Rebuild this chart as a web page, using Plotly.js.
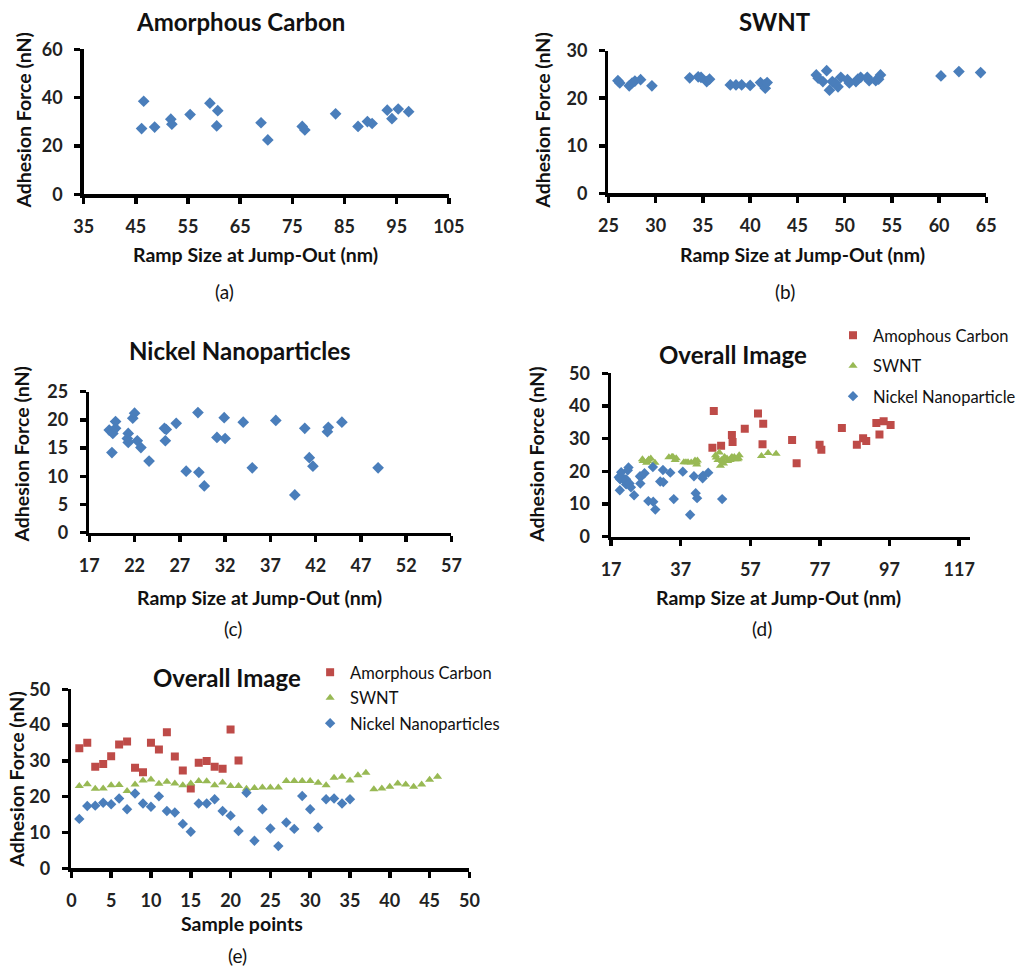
<!DOCTYPE html>
<html>
<head>
<meta charset="utf-8">
<script src="https://cdn.plot.ly/plotly-3.0.1.min.js"></script>
<style>html,body{margin:0;padding:0;background:#fff;}#chart{width:1021px;height:967px;}</style>
</head>
<body>
<div id="chart"></div>
<script>
// ---- Data ----
// (a) Amorphous Carbon: ramp size (nm) vs adhesion force (nN)
const carbonRamp  = [46.1,46.5,48.6,51.7,51.9,55.4,59.2,60.7,60.5,69.0,70.3,76.9,77.4,83.3,87.6,89.4,90.3,93.2,94.1,95.3,97.3];
const carbonForce = [27.2,38.5,27.8,31.1,29.0,33.0,37.7,34.6,28.3,29.6,22.5,28.1,26.6,33.3,28.1,30.1,29.3,34.8,31.3,35.3,34.2];
// (b) SWNT
const swntRamp  = [26.0,26.2,27.2,27.5,27.8,28.4,29.6,33.6,34.5,34.8,35.4,35.7,37.9,38.5,39.1,40.0,41.1,41.5,41.6,41.8,47.0,47.2,47.7,48.1,48.4,48.7,49.0,49.3,49.6,50.3,50.5,51.2,51.4,51.7,52.4,52.6,53.3,53.6,53.8,60.2,62.1,64.4];
const swntForce = [23.7,23.2,22.6,23.2,23.6,23.9,22.6,24.3,24.5,24.4,23.5,24.0,22.8,22.8,22.8,22.7,23.3,22.8,22.1,23.3,24.9,24.2,23.5,25.8,21.7,23.5,23.2,22.4,24.4,23.9,23.2,23.5,24.0,24.4,24.4,23.7,23.7,24.0,24.9,24.7,25.6,25.4];
// (c) Nickel Nanoparticles
const nickelRamp  = [19.2,19.5,19.6,19.9,19.9,19.5,21.3,21.2,21.3,21.8,22.0,22.3,22.7,23.6,25.3,25.5,25.4,26.6,27.7,29.0,29.1,29.7,31.1,31.9,32.0,34.0,35.0,37.6,39.7,40.8,41.3,41.7,43.3,43.4,44.9,48.9];
const nickelForce = [18.2,17.9,17.6,18.5,19.7,14.2,17.6,16.7,16.0,20.3,21.2,16.3,15.1,12.7,18.5,18.3,16.3,19.4,10.9,21.3,10.7,8.3,16.9,20.4,16.7,19.6,11.5,19.9,6.7,18.5,13.3,11.8,17.9,18.7,19.6,11.5];
// (e) Sample-point series
const carbonSample = [33.5,35.1,28.4,29.1,31.3,34.6,35.4,28.1,26.8,35.1,33.2,38.0,31.2,27.3,22.3,29.5,30.0,28.4,27.8,38.8,30.1];
const swntSample   = [23.0,23.5,22.2,22.3,23.2,23.3,21.6,23.4,24.5,24.8,23.6,24.2,23.7,23.2,23.7,24.4,24.3,23.2,24.0,23.0,23.0,22.2,22.4,22.6,22.6,22.6,24.4,24.4,24.4,24.4,23.9,23.2,25.3,25.6,24.5,26.0,26.7,22.1,22.3,22.8,23.7,23.4,22.8,23.4,24.7,25.6];
const nickelSample = [13.8,17.4,17.5,18.3,17.9,19.5,16.5,20.9,18.1,17.2,20.1,16.0,15.6,12.4,10.2,18.1,18.1,19.3,16.0,14.7,10.4,21.1,7.7,16.5,11.1,6.2,12.8,11.0,20.2,16.5,11.4,19.3,19.5,18.1,19.3];

// ---- Styles ----
const BLUE = '#4A7EBB', RED = '#BE4B48', GREEN = '#98B954';
const FONT = 'Lato, "Open Sans", sans-serif';
const idx = a => a.map((_, i) => i + 1);

const W = 1021, H = 967;
const px = v => v / W, py = v => 1 - v / H;

function axisX(dom, range, tick0, dtick, anchor) {
  return {domain: [px(dom[0]), px(dom[1])], range: range, tick0: tick0, dtick: dtick, anchor: anchor,
    showline: true, linewidth: 3.5, linecolor: '#000', ticks: 'outside', ticklen: 6, tickwidth: 3.5, tickcolor: '#000',
    showgrid: false, zeroline: false, ticklabelstandoff: 8,
    tickfont: {family: FONT, size: 18, color: '#222', weight: 'bold'}, fixedrange: true};
}
function axisY(dom, range, dtick, anchor) {
  return {domain: [py(dom[1]), py(dom[0])], range: range, tick0: 0, dtick: dtick, anchor: anchor,
    showline: true, linewidth: 3.5, linecolor: '#000', ticks: 'outside', ticklen: 6, tickwidth: 3.5, tickcolor: '#000',
    showgrid: false, zeroline: false, ticklabelstandoff: 8,
    tickfont: {family: FONT, size: 18, color: '#222', weight: 'bold'}, fixedrange: true};
}

const traces = [
  {x: carbonRamp, y: carbonForce, xaxis: 'x', yaxis: 'y', type: 'scatter', mode: 'markers', showlegend: false,
   marker: {symbol: 'diamond', size: 9, color: BLUE}},
  {x: swntRamp, y: swntForce, xaxis: 'x2', yaxis: 'y2', type: 'scatter', mode: 'markers', showlegend: false,
   marker: {symbol: 'diamond', size: 9, color: BLUE}},
  {x: nickelRamp, y: nickelForce, xaxis: 'x3', yaxis: 'y3', type: 'scatter', mode: 'markers', showlegend: false,
   marker: {symbol: 'diamond', size: 9, color: BLUE}},
  // (d) overall
  {x: carbonRamp, y: carbonForce, xaxis: 'x4', yaxis: 'y4', type: 'scatter', mode: 'markers', name: 'Amophous Carbon',
   legend: 'legend', legendgroup: 'd1', marker: {symbol: 'square', size: 8, color: RED}},
  {x: swntRamp, y: swntForce, xaxis: 'x4', yaxis: 'y4', type: 'scatter', mode: 'markers', name: 'SWNT',
   legend: 'legend', legendgroup: 'd2', marker: {symbol: 'triangle-up', size: 8, color: GREEN}},
  {x: nickelRamp, y: nickelForce, xaxis: 'x4', yaxis: 'y4', type: 'scatter', mode: 'markers', name: 'Nickel Nanoparticle',
   legend: 'legend', legendgroup: 'd3', marker: {symbol: 'diamond', size: 8, color: BLUE}},
  // (e) sample points
  {x: idx(carbonSample), y: carbonSample, xaxis: 'x5', yaxis: 'y5', type: 'scatter', mode: 'markers', name: 'Amorphous Carbon',
   legend: 'legend2', legendgroup: 'e1', marker: {symbol: 'square', size: 8, color: RED}},
  {x: idx(swntSample), y: swntSample, xaxis: 'x5', yaxis: 'y5', type: 'scatter', mode: 'markers', name: 'SWNT',
   legend: 'legend2', legendgroup: 'e2', marker: {symbol: 'triangle-up', size: 8, color: GREEN}},
  {x: idx(nickelSample), y: nickelSample, xaxis: 'x5', yaxis: 'y5', type: 'scatter', mode: 'markers', name: 'Nickel Nanoparticles',
   legend: 'legend2', legendgroup: 'e3', marker: {symbol: 'diamond', size: 8, color: BLUE}}
];

function ann(text, x, y, size, opts) {
  return Object.assign({text: text, x: px(x), y: py(y), xref: 'paper', yref: 'paper', xanchor: 'center', yanchor: 'middle',
    showarrow: false, font: {family: FONT, size: size, color: '#111'}}, opts || {});
}

const annotations = [
  ann('<b>Amorphous Carbon</b>', 245, 21, 24),
  ann('<b>SWNT</b>', 790, 21, 24),
  ann('<b>Nickel Nanoparticles</b>', 245, 350, 24),
  ann('<b>Overall Image</b>', 747, 354, 24),
  ann('<b>Overall Image</b>', 231, 677, 24),
  ann('<b>Adhesion Force (nN)</b>', 24, 121, 19.5, {textangle: -90}),
  ann('<b>Adhesion Force (nN)</b>', 553, 121, 19.5, {textangle: -90}),
  ann('<b>Adhesion Force (nN)</b>', 22, 455, 19.5, {textangle: -90}),
  ann('<b>Adhesion Force (nN)</b>', 547, 455, 19.5, {textangle: -90}),
  ann('<b>Adhesion Force (nN)</b>', 16, 780, 19.5, {textangle: -90}),
  ann('<b>Ramp Size at Jump-Out (nm)</b>', 260, 254, 19.5),
  ann('<b>Ramp Size at Jump-Out (nm)</b>', 818, 254, 19.5),
  ann('<b>Ramp Size at Jump-Out (nm)</b>', 264, 597, 19.5),
  ann('<b>Ramp Size at Jump-Out (nm)</b>', 793, 597, 19.5),
  ann('<b>Sample points</b>', 247, 923, 19.5),
  ann('(a)', 229, 292, 19),
  ann('(b)', 800, 292, 19),
  ann('(c)', 237, 628, 19),
  ann('(d)', 776, 628, 19),
  ann('(e)', 242, 955, 19)
];

const layout = {
  width: W, height: H, margin: {l: 0, r: 0, t: 0, b: 0}, paper_bgcolor: '#fff', plot_bgcolor: 'rgba(0,0,0,0)',
  font: {family: FONT, color: '#111'},
  xaxis:  axisX([85.3, 457.3], [35, 105], 35, 10, 'y'),
  yaxis:  axisY([49.3, 194.3], [0, 60], 20, 'x'),
  xaxis2: axisX([620, 1005], [25, 65], 25, 5, 'y2'),
  yaxis2: axisY([50.7, 193.3], [0, 30], 10, 'x2'),
  xaxis3: axisX([91, 460], [17, 57], 17, 5, 'y3'),
  yaxis3: axisY([391.7, 532.7], [0, 25], 5, 'x3'),
  xaxis4: axisX([622.7, 988], [17, 120], 17, 20, 'y4'),
  yaxis4: axisY([373.3, 536.7], [0, 50], 10, 'x4'),
  xaxis5: axisX([72.7, 478.3], [0, 50], 0, 5, 'y5'),
  yaxis5: axisY([689.3, 868.3], [0, 50], 10, 'x5'),
  legend: {x: px(849), y: py(318), xanchor: 'left', yanchor: 'top', bgcolor: 'rgba(0,0,0,0)', tracegroupgap: 6,
    font: {family: FONT, size: 16.5, color: '#111'}, itemwidth: 30},
  legend2: {x: px(316), y: py(655), xanchor: 'left', yanchor: 'top', bgcolor: 'rgba(0,0,0,0)', tracegroupgap: 1,
    font: {family: FONT, size: 16.5, color: '#111'}, itemwidth: 30},
  annotations: annotations
};

Plotly.newPlot('chart', traces, layout, {displayModeBar: false, staticPlot: true});
</script>
</body>
</html>
